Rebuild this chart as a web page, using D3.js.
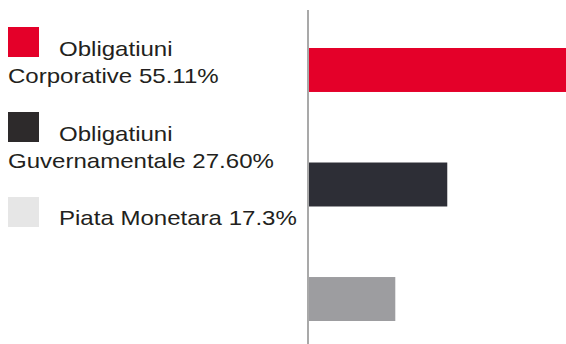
<!DOCTYPE html>
<html>
<head>
<meta charset="utf-8">
<script src="https://cdn.jsdelivr.net/npm/d3@7/dist/d3.min.js"></script>
<style>
  html, body { margin: 0; padding: 0; background: #fff; }
  svg { display: block; }
  text { font-family: "Liberation Sans", Arial, Helvetica, sans-serif; fill: #231f20; }
</style>
</head>
<body>
<svg id="chart" width="566" height="344"></svg>
<script>
// Asset allocation (percent of portfolio)
const categories = ["Obligatiuni Corporative", "Obligatiuni Guvernamentale", "Piata Monetara"];
const values = [55.11, 27.60, 17.3];
const valueLabels = ["55.11%", "27.60%", "17.3%"];
const barColors = ["#e40029", "#2d2e36", "#9d9da0"];
const swatchColors = ["#e40029", "#2d2a2b", "#e6e6e6"];

const svg = d3.select("#chart");
const W = 566, H = 344;

const x = d3.scaleLinear().domain([0, 60]).range([308, 308 + 60 * 5.046]);
const y = d3.scaleBand().domain(categories).range([48, 321]).paddingInner(0.616).paddingOuter(0);

// bars (clipped at the right edge of the canvas)
svg.append("g")
  .selectAll("rect")
  .data(categories)
  .join("rect")
  .attr("x", x(0))
  .attr("y", d => y(d))
  .attr("width", (d, i) => x(values[i]) - x(0))
  .attr("height", y.bandwidth())
  .attr("fill", (d, i) => barColors[i]);

// baseline
svg.append("line")
  .attr("x1", x(0)).attr("x2", x(0))
  .attr("y1", 10).attr("y2", H)
  .attr("stroke", "#a9a9a9")
  .attr("stroke-width", 2);

// legend
const legendRows = [
  { swatchY: 27, lines: [["Obligatiuni", 59, 56], ["Corporative " + valueLabels[0], 8, 83]] },
  { swatchY: 112, lines: [["Obligatiuni", 59, 141], ["Guvernamentale " + valueLabels[1], 8, 168]] },
  { swatchY: 197, lines: [["Piata Monetara " + valueLabels[2], 59, 225]] }
];

const legend = svg.append("g");
legendRows.forEach((row, i) => {
  legend.append("rect")
    .attr("x", 8).attr("y", row.swatchY)
    .attr("width", 31).attr("height", 30)
    .attr("fill", swatchColors[i]);
  row.lines.forEach(([t, lx, ly]) => {
    legend.append("text")
      .attr("transform", `translate(${lx},${ly}) scale(1.145,1)`)
      .attr("font-size", 21)
      .text(t);
  });
});
</script>
</body>
</html>
